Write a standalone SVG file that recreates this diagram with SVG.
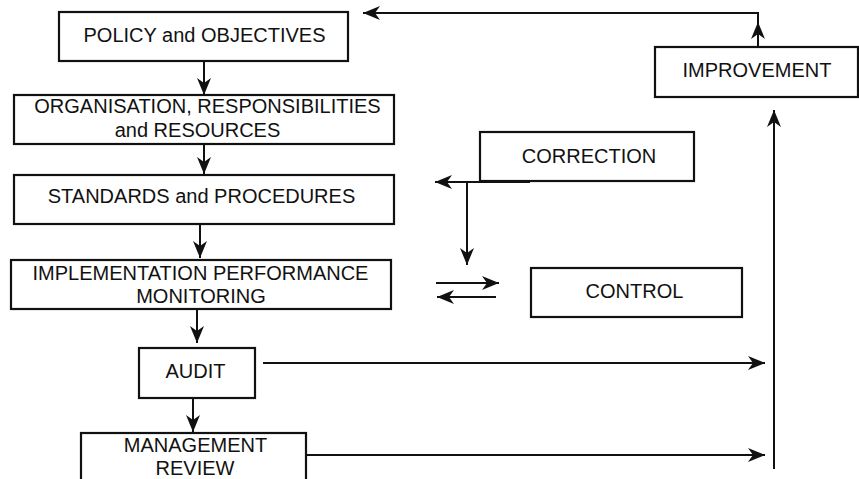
<svg xmlns="http://www.w3.org/2000/svg" width="859" height="479" viewBox="0 0 859 479">
<style>
.box{fill:#fff;stroke:#111;stroke-width:2.2}
.t{font-family:"Liberation Sans",Arial,sans-serif;font-size:20px;fill:#111;text-anchor:middle}
.c{fill:none;stroke:#111;stroke-width:2}
</style>
<defs>
<marker id="ah" markerUnits="userSpaceOnUse" markerWidth="20" markerHeight="14" refX="17" refY="7" orient="auto">
<path d="M0,0 L17,7 L0,14 L5,7 Z" fill="#111"/>
</marker>
</defs>
<rect width="859" height="479" fill="#fff"/>
<g id="policy"><rect class="box" x="59" y="12" width="289" height="49"/><text class="t" x="204.5" y="42">POLICY and OBJECTIVES</text></g>
<g id="organisation"><rect class="box" x="14" y="95" width="380" height="49"/><text class="t" x="207.5" y="113">ORGANISATION, RESPONSIBILITIES</text><text class="t" x="197.5" y="137">and RESOURCES</text></g>
<g id="standards"><rect class="box" x="14" y="175" width="380" height="49"/><text class="t" x="201.5" y="203">STANDARDS and PROCEDURES</text></g>
<g id="implementation"><rect class="box" x="11" y="260" width="380" height="49"/><text class="t" x="200.5" y="280">IMPLEMENTATION PERFORMANCE</text><text class="t" x="201" y="303">MONITORING</text></g>
<g id="audit"><rect class="box" x="139" y="348" width="116" height="50"/><text class="t" x="195.5" y="378">AUDIT</text></g>
<g id="review"><rect class="box" x="81" y="433" width="225" height="60"/><text class="t" x="195.5" y="452">MANAGEMENT</text><text class="t" x="195" y="475">REVIEW</text></g>
<g id="improvement"><rect class="box" x="655" y="47" width="203" height="50"/><text class="t" x="757" y="77">IMPROVEMENT</text></g>
<g id="correction"><rect class="box" x="480" y="132" width="214" height="49"/><text class="t" x="589" y="163">CORRECTION</text></g>
<g id="control"><rect class="box" x="531" y="268" width="211" height="49"/><text class="t" x="634.5" y="298">CONTROL</text></g>
<g id="connectors">
<path class="c" d="M204,61 V95" marker-end="url(#ah)"/>
<path class="c" d="M204,144 V174" marker-end="url(#ah)"/>
<path class="c" d="M200,224 V258" marker-end="url(#ah)"/>
<path class="c" d="M197,309 V343" marker-end="url(#ah)"/>
<path class="c" d="M193,398 V432" marker-end="url(#ah)"/>
<path class="c" d="M263,363 H765" marker-end="url(#ah)"/>
<path class="c" d="M307,455 H765" marker-end="url(#ah)"/>
<path class="c" d="M774,469 V110" marker-end="url(#ah)"/>
<path class="c" d="M758,47 V22" marker-end="url(#ah)"/>
<path class="c" d="M758,22 V13 H363" marker-end="url(#ah)"/>
<path class="c" d="M530,182 H435" marker-end="url(#ah)"/>
<path class="c" d="M467,182 V265" marker-end="url(#ah)"/>
<path class="c" d="M436,283 H499" marker-end="url(#ah)"/>
<path class="c" d="M496,297 H437" marker-end="url(#ah)"/>
</g>
</svg>
